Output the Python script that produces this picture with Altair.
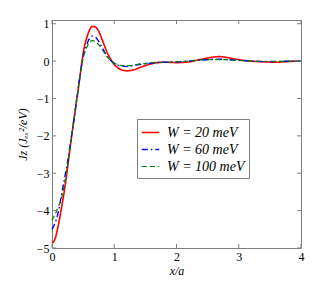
import altair as alt
import pandas as pd

xs = [0, 0.05, 0.1, 0.15, 0.2, 0.25, 0.3, 0.35, 0.4, 0.45, 0.5, 0.55, 0.6, 0.65, 0.7,
      0.75, 0.8, 0.85, 0.9, 0.95, 1.0, 1.1, 1.2, 1.3, 1.4, 1.5, 1.6, 1.8, 2.0, 2.2,
      2.4, 2.6, 2.7, 2.8, 3.0, 3.2, 3.4, 3.6, 3.8, 4.0]
w20 = [-4.87, -4.75, -4.4, -3.95, -3.45, -2.85, -2.2, -1.6, -1.0, -0.4, 0.2, 0.58, 0.82, 0.93, 0.91,
       0.8, 0.6, 0.38, 0.18, 0.03, -0.09, -0.22, -0.26, -0.24, -0.18, -0.12, -0.07, -0.03, -0.04, -0.02,
       0.05, 0.11, 0.12, 0.1, 0.04, 0.0, -0.02, -0.03, -0.01, 0.0]
w60 = [-4.5, -4.33, -4.05, -3.6, -3.15, -2.7, -2.15, -1.6, -1.0, -0.4, 0.12, 0.4, 0.6, 0.67, 0.64,
       0.53, 0.38, 0.23, 0.1, 0.01, -0.06, -0.13, -0.14, -0.12, -0.09, -0.07, -0.05, -0.03, -0.02, 0.0,
       0.03, 0.05, 0.05, 0.04, 0.02, 0.0, -0.01, -0.01, 0.0, 0.0]
w100 = [-4.26, -4.1, -3.9, -3.68, -3.3, -2.78, -2.18, -1.58, -0.98, -0.4, 0.08, 0.33, 0.5, 0.55, 0.52,
        0.44, 0.33, 0.2, 0.09, 0.01, -0.05, -0.11, -0.12, -0.11, -0.08, -0.06, -0.04, -0.03, -0.02, 0.0,
        0.03, 0.04, 0.04, 0.04, 0.02, 0.0, -0.01, -0.01, 0.0, 0.0]
labels = ["W = 20 meV", "W = 60 meV", "W = 100 meV"]
x_ticks = [0, 1, 2, 3, 4]
y_ticks = [-5, -4, -3, -2, -1, 0, 1]

rows = []
for lab, ys in zip(labels, [w20, w60, w100]):
    for x, y in zip(xs, ys):
        rows.append({"x": x, "y": y, "series": lab})
df = pd.DataFrame(rows)

W, H = 249, 228
xscale = alt.Scale(domain=[0, 4], nice=False, zero=False)
yscale = alt.Scale(domain=[-5, 1.1], nice=False, zero=False)
FONT = "Liberation Serif"
GREY = "#7f7f7f"

xaxis = alt.Axis(values=x_ticks, format="d", title="x/a", domain=False, ticks=False, grid=False,
                 labelFont=FONT, labelFontSize=12, labelColor="black", labelPadding=3,
                 labelOverlap=False, labelFlush=False,
                 titleFont=FONT, titleFontStyle="italic", titleFontWeight="normal",
                 titleFontSize=12, titleColor="black", titlePadding=3)
yaxis = alt.Axis(values=y_ticks, format="d", title="Jz (Jₑₓ²/eV)", domain=False, ticks=False,
                 grid=False,
                 labelFont=FONT, labelFontSize=12, labelColor="black", labelPadding=3,
                 labelOverlap=False, labelFlush=False,
                 titleFont=FONT, titleFontStyle="italic", titleFontWeight="normal",
                 titleFontSize=12, titleColor="black", titlePadding=7)

lines = alt.Chart(df).mark_line(interpolate="monotone").encode(
    x=alt.X("x:Q", scale=xscale, axis=xaxis, title="x/a"),
    y=alt.Y("y:Q", scale=yscale, axis=yaxis, title="Jz (Jₑₓ²/eV)"),
    color=alt.Color("series:N", sort=labels,
                    scale=alt.Scale(domain=labels, range=["#ff0000", "#0000ff", "#008000"]),
                    legend=alt.Legend(title=None, orient="none", legendX=85, legendY=99,
                                      symbolType="stroke", symbolSize=300, symbolStrokeWidth=1.5,
                                      labelFont=FONT, labelFontStyle="italic", labelFontWeight="normal",
                                      labelFontSize=14, labelLimit=200,
                                      labelColor="black", strokeColor=GREY, fillColor="white",
                                      padding=4, rowPadding=0, labelOffset=7)),
    strokeDash=alt.StrokeDash("series:N", sort=labels,
                              scale=alt.Scale(domain=labels, range=[[1, 0], [6, 3, 1.5, 3], [5, 3]]),
                              legend=None),
    strokeWidth=alt.StrokeWidth("series:N", sort=labels,
                                scale=alt.Scale(domain=labels, range=[1.6, 1.2, 1.2]),
                                legend=None),
)

xt = pd.DataFrame({"x": x_ticks})
yt = pd.DataFrame({"y": y_ticks})
tick_style = dict(color=GREY, strokeWidth=1)
xenc = alt.X("x:Q", scale=xscale, axis=xaxis, title="x/a")
yenc = alt.Y("y:Q", scale=yscale, axis=yaxis, title="Jz (Jₑₓ²/eV)")
xb = alt.Chart(xt).mark_rule(**tick_style).encode(x=xenc, y=alt.value(H), y2=alt.value(H - 4))
xtop = alt.Chart(xt).mark_rule(**tick_style).encode(x=xenc, y=alt.value(0), y2=alt.value(4))
yl = alt.Chart(yt).mark_rule(**tick_style).encode(y=yenc, x=alt.value(0), x2=alt.value(4))
yr = alt.Chart(yt).mark_rule(**tick_style).encode(y=yenc, x=alt.value(W), x2=alt.value(W - 4))

chart = alt.layer(lines, xb, xtop, yl, yr).properties(
    width=W, height=H,
    autosize=alt.AutoSizeParams(type="none"),
    padding={"left": 44, "top": 12, "right": 23, "bottom": 33},
).configure_view(stroke=GREY, strokeWidth=1)

chart.save("out.html", embed_options={"renderer": "svg", "actions": False})
